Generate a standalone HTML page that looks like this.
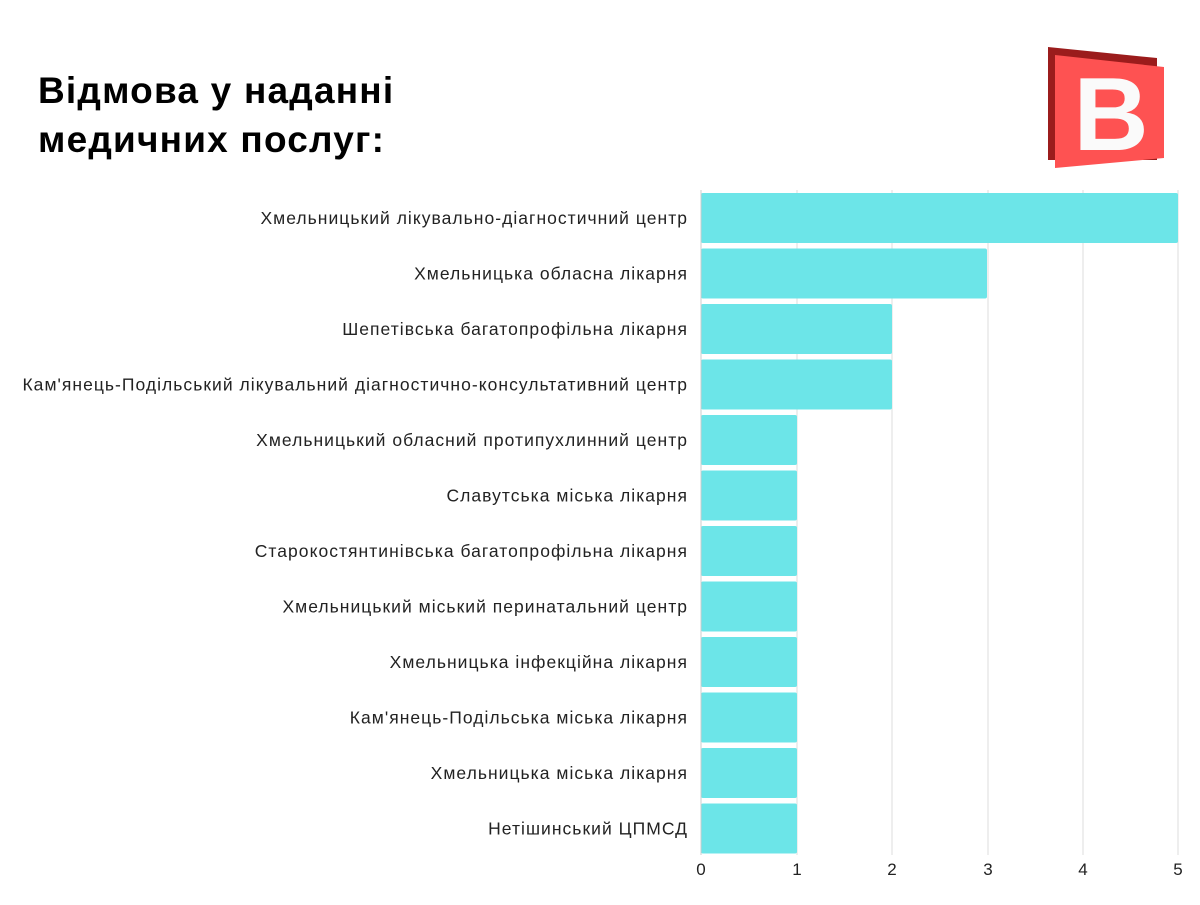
<!DOCTYPE html>
<html><head><meta charset="utf-8"><style>
body{margin:0;background:#fff;width:1200px;height:900px;overflow:hidden}
svg text{font-family:"Liberation Sans",sans-serif}
</style></head><body>
<svg width="1200" height="900" viewBox="0 0 1200 900" xmlns="http://www.w3.org/2000/svg">
<text x="38" y="103" font-size="37" font-weight="bold" fill="#000" letter-spacing="1.2">Відмова у наданні</text>
<text x="38" y="152" font-size="37" font-weight="bold" fill="#000" letter-spacing="1.2">медичних послуг:</text>
<polygon points="1048,47 1157,58 1157,160 1048,160" fill="#9b1c1c"/>
<polygon points="1055,55 1164,67 1164,158 1055,168" fill="#fe5252"/>
<text x="1111" y="150" font-size="104" font-weight="bold" fill="#fafafa" text-anchor="middle" font-family="Liberation Serif">B</text>
<g stroke="#dddddd" stroke-width="1">
<line x1="797" y1="190" x2="797" y2="855"/><line x1="892" y1="190" x2="892" y2="855"/>
<line x1="988" y1="190" x2="988" y2="855"/><line x1="1083" y1="190" x2="1083" y2="855"/>
<line x1="1178" y1="190" x2="1178" y2="855"/>
</g>
<g fill="#6ce5e8">
<rect x="701" y="193" width="477" height="50" rx="2"/>
<rect x="701" y="248.5" width="286" height="50" rx="2"/>
<rect x="701" y="304" width="191" height="50" rx="2"/>
<rect x="701" y="359.5" width="191" height="50" rx="2"/>
<rect x="701" y="415" width="96" height="50" rx="2"/>
<rect x="701" y="470.5" width="96" height="50" rx="2"/>
<rect x="701" y="526" width="96" height="50" rx="2"/>
<rect x="701" y="581.5" width="96" height="50" rx="2"/>
<rect x="701" y="637" width="96" height="50" rx="2"/>
<rect x="701" y="692.5" width="96" height="50" rx="2"/>
<rect x="701" y="748" width="96" height="50" rx="2"/>
<rect x="701" y="803.5" width="96" height="50" rx="2"/>
</g>
<line x1="701" y1="190" x2="701" y2="855" stroke="#ccc"/>
<g font-size="17.5" fill="#222" text-anchor="end" letter-spacing="1.03">
<text x="688" y="224">Хмельницький лікувально-діагностичний центр</text>
<text x="688" y="279.5">Хмельницька обласна лікарня</text>
<text x="688" y="335">Шепетівська багатопрофільна лікарня</text>
<text x="688" y="390.5">Кам'янець-Подільський лікувальний діагностично-консультативний центр</text>
<text x="688" y="446">Хмельницький обласний протипухлинний центр</text>
<text x="688" y="501.5">Славутська міська лікарня</text>
<text x="688" y="557">Старокостянтинівська багатопрофільна лікарня</text>
<text x="688" y="612.5">Хмельницький міський перинатальний центр</text>
<text x="688" y="668">Хмельницька інфекційна лікарня</text>
<text x="688" y="723.5">Кам'янець-Подільська міська лікарня</text>
<text x="688" y="779">Хмельницька міська лікарня</text>
<text x="688" y="834.5">Нетішинський ЦПМСД</text>
</g>
<g font-size="17" fill="#222" text-anchor="middle">
<text x="701" y="875">0</text><text x="797" y="875">1</text><text x="892" y="875">2</text>
<text x="988" y="875">3</text><text x="1083" y="875">4</text><text x="1178" y="875">5</text>
</g>
</svg>
</body></html>
